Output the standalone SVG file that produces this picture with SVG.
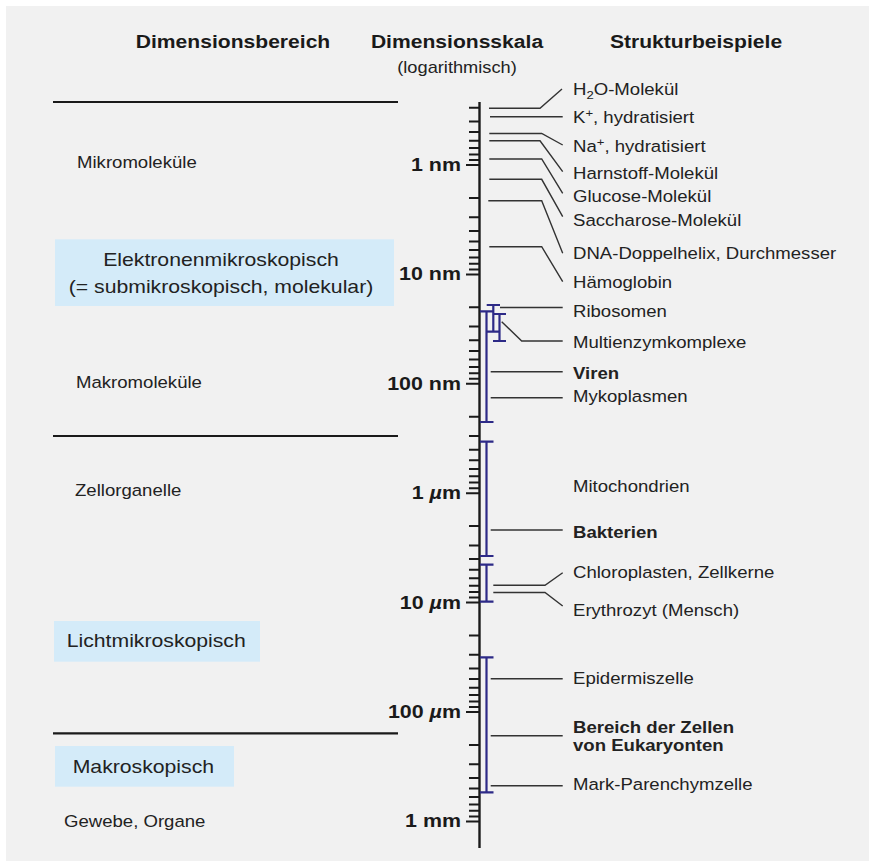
<svg xmlns="http://www.w3.org/2000/svg" width="869" height="861" viewBox="0 0 869 861">
<defs>
<style>
text{font-family:"Liberation Sans",Arial,Helvetica,sans-serif;fill:#222}
.hd{font-size:18.5px;font-weight:bold;fill:#1a1a1a;text-anchor:middle}
.sub{font-size:16px;text-anchor:middle}
.lbl{font-size:16.3px}
.b{font-weight:bold}
.ax{font-size:18.8px;font-weight:bold;text-anchor:end;fill:#1a1a1a}
.box{fill:#d4ebf9}
.bx{font-size:18.6px}
.sep{stroke:#1a1a1a;stroke-width:2.2;fill:none}
.tick{stroke:#1a1a1a;stroke-width:2;fill:none}
.lead{stroke:#333;stroke-width:1.4;fill:none}
.br{stroke:#2d2a87;stroke-width:2.2;fill:none}
</style>
</defs>
<rect x="0" y="0" width="869" height="861" fill="#ffffff"/>
<rect x="6" y="6" width="863" height="855" fill="#f1f1f1"/>

<g id="headers">
<text class="hd" transform="translate(233 48) scale(1.14 1)">Dimensionsbereich</text>
<text class="hd" transform="translate(457 48) scale(1.14 1)">Dimensionsskala</text>
<text class="sub" transform="translate(457 73) scale(1.14 1)">(logarithmisch)</text>
<text class="hd" transform="translate(696 48) scale(1.14 1)">Strukturbeispiele</text>
</g>

<g id="separators">
<path class="sep" d="M53 102H398M53 436H398M53 733.3H398"/>
</g>

<g id="regions">
<text class="lbl" transform="translate(77 168) scale(1.14 1)">Mikromoleküle</text>
<text class="lbl" transform="translate(76 388) scale(1.14 1)">Makromoleküle</text>
<text class="lbl" transform="translate(75 496) scale(1.14 1)">Zellorganelle</text>
<text class="lbl" transform="translate(64 827) scale(1.14 1)">Gewebe, Organe</text>
</g>

<g id="box-elektronen">
<rect class="box" x="55" y="239.3" width="339" height="66.7"/>
<text class="bx" text-anchor="middle" transform="translate(221 266) scale(1.14 1)">Elektronenmikroskopisch</text>
<text class="bx" text-anchor="middle" transform="translate(221 293) scale(1.14 1)">(= submikroskopisch, molekular)</text>
</g>
<g id="box-licht">
<rect class="box" x="54" y="621" width="206" height="40.7"/>
<text class="bx" transform="translate(66.7 647.3) scale(1.14 1)">Lichtmikroskopisch</text>
</g>
<g id="box-makro">
<rect class="box" x="55" y="746" width="179" height="40.7"/>
<text class="bx" transform="translate(72.7 772.7) scale(1.14 1)">Makroskopisch</text>
</g>

<g id="axis">
<line x1="479.5" y1="102" x2="479.5" y2="848" stroke="#1a1a1a" stroke-width="2.4"/>
<path class="tick" d="M466 165h13M466 274.4h13M466 383.8h13M466 493.2h13M466 602.6h13M466 712h13M466 821.4h13"/>
<path class="tick" d="M469 107.8h10M469 121.5h10M469 132.1h10M469 140.7h10M469 148h10M469 154.4h10M469 160h10
M469 197.9h10M469 217.2h10M469 230.9h10M469 241.5h10M469 250.1h10M469 257.5h10M469 263.8h10M469 269.4h10
M469 307.3h10M469 326.6h10M469 340.3h10M469 350.9h10M469 359.5h10M469 366.9h10M469 373.2h10M469 378.8h10
M469 416.7h10M469 436h10M469 449.7h10M469 460.3h10M469 468.9h10M469 476.3h10M469 482.6h10M469 488.2h10
M469 526.1h10M469 545.4h10M469 559.1h10M469 569.7h10M469 578.3h10M469 585.7h10M469 592h10M469 597.6h10
M469 635.5h10M469 654.8h10M469 668.5h10M469 679.1h10M469 687.7h10M469 695.1h10M469 701.4h10M469 707h10
M469 744.9h10M469 764.2h10M469 777.9h10M469 788.5h10M469 797.1h10M469 804.5h10M469 810.8h10M469 816.4h10"/>
<text class="ax" transform="translate(461 171) scale(1.14 1)">1 nm</text>
<text class="ax" transform="translate(461 280.4) scale(1.14 1)">10 nm</text>
<text class="ax" transform="translate(461 389.8) scale(1.14 1)">100 nm</text>
<text class="ax" transform="translate(461 499.2) scale(1.14 1)">1 <tspan font-style="italic">µ</tspan>m</text>
<text class="ax" transform="translate(461 608.6) scale(1.14 1)">10 <tspan font-style="italic">µ</tspan>m</text>
<text class="ax" transform="translate(461 718) scale(1.14 1)">100 <tspan font-style="italic">µ</tspan>m</text>
<text class="ax" transform="translate(461 827.4) scale(1.14 1)">1 mm</text>
</g>

<g id="brackets">
<path class="br" d="M493.3 305V331.7M486.7 305H500M486.7 331.7H500"/>
<path class="br" d="M499.5 314V341M493 314H506M493 341H506"/>
<path class="br" d="M486.5 311.3V422M480 311.3H493.5M480 422H493.5"/>
<path class="br" d="M486.5 441.7V556M480 441.7H493.5M480 556H493.5"/>
<path class="br" d="M486.5 564.7V601.7M480 564.7H493.5M480 601.7H493.5"/>
<path class="br" d="M486.5 657.3V792.3M480 657.3H493.5M480 792.3H493.5"/>
</g>

<g id="connectors">
<polyline class="lead" points="489,108.3 540,108.3 562,89"/>
<polyline class="lead" points="490,116.7 562.7,116.7"/>
<polyline class="lead" points="489.3,133.5 541.7,133.5 562.7,145"/>
<polyline class="lead" points="489.3,140.8 540,140.8 562.7,171.7"/>
<polyline class="lead" points="489.3,159 541.7,159 562.7,193.3"/>
<polyline class="lead" points="489.3,179.3 541.7,179.3 562.7,216.7"/>
<polyline class="lead" points="488.3,200.8 541.7,200.8 562.7,253.3"/>
<polyline class="lead" points="489.3,246.7 541.7,246.7 562.7,281.7"/>
<polyline class="lead" points="500,307.5 562.7,307.5"/>
<polyline class="lead" points="501.7,321.7 521.7,341 562.7,341"/>
<polyline class="lead" points="490.7,371.7 562.7,371.7"/>
<polyline class="lead" points="490.7,397.7 562.7,397.7"/>
<polyline class="lead" points="490.7,530 562.7,530"/>
<polyline class="lead" points="493.3,585.3 545,585.3 562.7,572.7"/>
<polyline class="lead" points="493.3,592.5 545,592.5 562.7,606"/>
<polyline class="lead" points="490.7,678.7 562.7,678.7"/>
<polyline class="lead" points="490.7,735.8 562.7,735.8"/>
<polyline class="lead" points="490.7,785.7 562.7,785.7"/>
</g>

<g id="examples">
<text class="lbl" transform="translate(573 94.5) scale(1.14 1)">H<tspan font-size="11.5px" dy="4">2</tspan><tspan dy="-4">O-Molekül</tspan></text>
<text class="lbl" transform="translate(573 123) scale(1.14 1)">K<tspan font-size="11.5px" dy="-6">+</tspan><tspan dy="6">, hydratisiert</tspan></text>
<text class="lbl" transform="translate(573 151.5) scale(1.14 1)">Na<tspan font-size="11.5px" dy="-6">+</tspan><tspan dy="6">, hydratisiert</tspan></text>
<text class="lbl" transform="translate(573 179) scale(1.14 1)">Harnstoff-Molekül</text>
<text class="lbl" transform="translate(573 202.3) scale(1.14 1)">Glucose-Molekül</text>
<text class="lbl" transform="translate(573 225.7) scale(1.14 1)">Saccharose-Molekül</text>
<text class="lbl" transform="translate(573 259.3) scale(1.14 1)">DNA-Doppelhelix, Durchmesser</text>
<text class="lbl" transform="translate(573 287.5) scale(1.14 1)">Hämoglobin</text>
<text class="lbl" transform="translate(573 316.7) scale(1.14 1)">Ribosomen</text>
<text class="lbl" transform="translate(573 347.5) scale(1.14 1)">Multienzymkomplexe</text>
<text class="lbl b" transform="translate(573 379) scale(1.14 1)">Viren</text>
<text class="lbl" transform="translate(573 401.7) scale(1.14 1)">Mykoplasmen</text>
<text class="lbl" transform="translate(573 492) scale(1.14 1)">Mitochondrien</text>
<text class="lbl b" transform="translate(573 538) scale(1.14 1)">Bakterien</text>
<text class="lbl" transform="translate(573 577.7) scale(1.14 1)">Chloroplasten, Zellkerne</text>
<text class="lbl" transform="translate(573 615.5) scale(1.14 1)">Erythrozyt (Mensch)</text>
<text class="lbl" transform="translate(573 683.5) scale(1.14 1)">Epidermiszelle</text>
<text class="lbl b" transform="translate(573 732.5) scale(1.14 1)">Bereich der Zellen</text>
<text class="lbl b" transform="translate(573 750.5) scale(1.14 1)">von Eukaryonten</text>
<text class="lbl" transform="translate(573 790) scale(1.14 1)">Mark-Parenchymzelle</text>
</g>
</svg>
